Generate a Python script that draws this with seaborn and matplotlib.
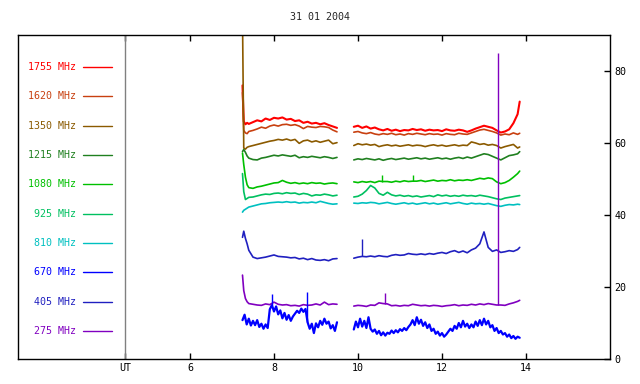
import matplotlib
matplotlib.use("Agg")
import matplotlib.pyplot as plt
import seaborn as sns

sns.set_style("white")
plt.rcParams['font.family'] = ['DejaVu Sans Mono', 'DejaVu Sans']

title = "31 01 2004"
labels = ["1755 MHz", "1620 MHz", "1350 MHz", "1215 MHz", "1080 MHz",
          "925 MHz", "810 MHz", "670 MHz", "405 MHz", "275 MHz"]
colors = ["#ff0000", "#c84010", "#8b5a00", "#208020", "#00c000",
          "#00c060", "#00c0c0", "#0000ff", "#2020c0", "#8000c0"]

xticks = [4.45, 6, 8, 10, 12, 14]
xticklabels = ["UT", "6", "8", "10", "12", "14"]
yticks = [0, 20, 40, 60, 80]

# sample times (UT hours)
t1 = [7.25, 7.28, 7.32, 7.36, 7.4, 7.5, 7.6, 7.7, 7.8, 7.9, 8.0, 8.1, 8.2,
      8.3, 8.4, 8.5, 8.6, 8.7, 8.8, 8.9, 9.0, 9.1, 9.2, 9.3, 9.4, 9.5]
t2 = [9.9, 10.0, 10.1, 10.2, 10.3, 10.4, 10.5, 10.6, 10.7, 10.8, 10.9,
      11.0, 11.1, 11.2, 11.3, 11.4, 11.5, 11.6, 11.7, 11.8, 11.9,
      12.0, 12.1, 12.2, 12.3, 12.4, 12.5, 12.6, 12.7, 12.8, 12.9,
      13.0, 13.1, 13.2, 13.3, 13.4, 13.5, 13.6, 13.7, 13.8, 13.85]
# finer sampling for the noisy 670 MHz record
t1b = [7.25, 7.30, 7.35, 7.40, 7.45, 7.50, 7.55, 7.60, 7.65, 7.70, 7.75, 7.80,
       7.85, 7.90, 7.95, 8.00, 8.05, 8.10, 8.15, 8.20, 8.25, 8.30, 8.35, 8.40,
       8.45, 8.50, 8.55, 8.60, 8.65, 8.70, 8.75, 8.80, 8.85, 8.90, 8.95, 9.00,
       9.05, 9.10, 9.15, 9.20, 9.25, 9.30, 9.35, 9.40, 9.45, 9.50]
t2b = [9.90, 9.95, 10.00, 10.05, 10.10, 10.15, 10.20, 10.25, 10.30, 10.35,
       10.40, 10.45, 10.50, 10.55, 10.60, 10.65, 10.70, 10.75, 10.80, 10.85,
       10.90, 10.95, 11.00, 11.05, 11.10, 11.15, 11.20, 11.25, 11.30, 11.35,
       11.40, 11.45, 11.50, 11.55, 11.60, 11.65, 11.70, 11.75, 11.80, 11.85,
       11.90, 11.95, 12.00, 12.05, 12.10, 12.15, 12.20, 12.25, 12.30, 12.35,
       12.40, 12.45, 12.50, 12.55, 12.60, 12.65, 12.70, 12.75, 12.80, 12.85,
       12.90, 12.95, 13.00, 13.05, 13.10, 13.15, 13.20, 13.25, 13.30, 13.35,
       13.40, 13.45, 13.50, 13.55, 13.60, 13.65, 13.70, 13.75, 13.80, 13.85]

f1755_a = [76, 66, 65.2, 65.6, 65.3, 65.8, 66.3, 66.0, 66.8, 66.4, 67.0, 66.8, 67.1,
           66.5, 66.7, 66.1, 66.3, 65.6, 65.9, 65.4, 65.6, 65.2, 65.5, 65.0, 64.6, 64.2]
f1755_b = [64.5, 64.8, 64.2, 64.6, 64.0, 64.3, 63.8, 63.5, 63.9, 63.4, 63.7,
           63.3, 63.6, 63.5, 63.9, 63.6, 63.8, 63.4, 63.7, 63.5, 63.6,
           63.3, 63.8, 63.5, 63.4, 63.7, 63.5, 63.1, 63.5, 64.0, 64.4,
           64.8, 64.5, 64.2, 63.5, 62.9, 63.2, 63.8, 65.5, 68.0, 71.5]
f1620_a = [74, 63.5, 62.8, 62.6, 63.2, 63.5, 63.9, 64.4, 64.1, 64.7, 65.0, 64.7, 65.1,
           65.2, 64.9, 65.1, 64.7, 64.0, 64.6, 64.4, 64.3, 64.6, 64.5, 64.3, 63.6, 63.1]
f1620_b = [63.0, 63.2, 62.8, 62.6, 62.9, 62.5, 62.3, 62.6, 62.4, 62.7, 62.3,
           62.5, 62.2, 62.6, 62.4, 62.7, 62.5, 62.3, 62.6, 62.4, 62.5,
           62.2, 62.6, 62.4, 62.3, 62.7, 62.5, 62.4, 62.8, 63.2, 63.6,
           63.8, 63.5, 63.2, 62.8, 62.2, 62.5, 62.3, 62.8, 62.4, 62.7]
f1350_a = [95, 58.6, 58.3, 58.8, 59.0, 59.3, 59.6, 59.9, 60.2, 60.5, 60.7, 61.0, 60.8,
           61.1, 60.7, 61.0, 59.9, 60.6, 60.8, 60.3, 60.6, 60.2, 60.5, 60.8, 59.8, 60.1]
f1350_b = [59.3, 59.8, 59.5, 59.7, 59.4, 59.6, 59.0, 59.3, 59.5, 59.2, 59.4,
           59.1, 59.3, 59.5, 59.2, 59.4, 59.3, 59.0, 59.3, 59.5, 59.2,
           59.4, 59.1, 59.3, 59.5, 59.2, 59.4, 59.3, 60.3, 60.0, 59.6,
           59.8, 59.4, 59.6, 59.3, 58.6, 59.0, 59.3, 59.6, 58.6, 58.9]
f1215_a = [57.6, 58.2, 57.4, 56.4, 55.8, 55.4, 55.3, 55.8, 56.0, 56.3, 56.6, 56.4, 56.7,
           56.5, 56.3, 56.6, 55.9, 56.2, 56.0, 56.3, 56.1, 55.9, 56.2, 56.0, 55.7, 56.0]
f1215_b = [55.3, 55.6, 55.4, 55.7, 55.5, 55.3, 55.6, 55.2, 55.5, 55.7, 55.4,
           55.6, 55.8, 55.5, 55.7, 55.9, 55.6, 55.8, 55.5, 55.7, 55.9,
           55.6, 55.8, 55.5, 55.8, 56.0, 55.7, 56.1, 55.8, 56.2, 56.6,
           57.0, 56.8, 56.3, 55.8, 55.3, 55.9, 56.5, 56.7, 57.0, 57.6]
f1080_a = [57.2, 54.0, 50.5, 48.4, 47.6, 47.4, 47.8, 48.0, 48.3, 48.6, 48.9, 49.0, 49.6,
           49.1, 48.8, 49.0, 48.7, 48.9, 48.7, 49.0, 48.8, 48.9, 48.6, 48.8, 48.9, 48.7]
f1080_b = [49.2, 49.0, 49.3, 49.1, 49.3, 49.0, 49.4, 49.3, 49.3, 49.1, 49.4,
           49.2, 49.5, 49.3, 49.4, 49.4, 49.6, 49.3, 49.5, 49.7, 49.4,
           49.6, 49.5, 49.8, 49.5, 49.7, 49.6, 49.8, 49.6, 49.9, 50.2,
           50.0, 50.3, 50.1, 49.2, 48.7, 49.0, 49.6, 50.5, 51.5, 52.2]
f925_a = [51.5, 46.5, 44.3, 44.6, 44.9, 45.0, 45.3, 45.6, 45.8, 45.7, 46.0, 46.1, 45.9,
          46.2, 46.0, 46.1, 45.7, 46.0, 45.8, 45.3, 45.6, 45.5, 45.8, 45.6, 45.3, 45.5]
f925_b = [45.0, 45.2, 45.8, 46.8, 48.2, 47.5, 46.0, 45.5, 46.3, 45.6, 45.3,
          45.5, 45.2, 45.4, 45.1, 45.3, 45.0, 45.2, 45.4, 45.1, 45.6,
          45.3, 45.5, 45.2, 45.4, 45.2, 45.5, 45.3, 45.4, 45.2, 45.5,
          45.3, 45.1, 44.8, 44.5, 44.3, 44.7, 44.9, 45.1, 45.3, 45.4]
f810_a = [40.8, 41.3, 41.6, 41.9, 42.2, 42.5, 42.8, 43.1, 43.2, 43.4, 43.5, 43.6, 43.5,
          43.7, 43.5, 43.6, 43.3, 43.5, 43.4, 43.6, 43.4, 43.8, 43.5, 43.2, 43.0, 43.1]
f810_b = [43.3, 43.2, 43.4, 43.3, 43.5, 43.4, 43.1, 43.3, 43.5, 43.2, 43.0,
          43.2, 43.4, 43.1, 43.3, 43.0, 43.2, 43.4, 43.1, 43.3, 43.0,
          43.2, 43.4, 43.1, 43.3, 43.5, 43.2, 43.0, 43.3, 43.1, 43.2,
          43.0, 43.2, 42.9, 42.6, 42.4, 42.7, 42.9, 42.8, 43.0, 42.9]
f670_a = [10.8, 12.3, 9.6, 11.2, 9.3, 10.6, 9.4, 10.8, 8.9, 9.8, 8.4, 9.6,
          8.6, 13.8, 15.0, 13.2, 14.6, 12.4, 13.5, 11.3, 12.8, 10.9, 12.2, 10.6,
          11.8, 12.6, 13.4, 12.8, 14.0, 13.1, 13.9, 10.2, 8.4, 9.8, 7.2, 9.9,
          8.8, 10.6, 9.5, 11.2, 9.8, 10.4, 8.5, 9.4, 7.8, 10.2]
f670_b = [8.2, 10.4, 8.8, 11.2, 9.0, 10.6, 8.6, 11.6, 8.4, 7.6,
          8.2, 7.0, 7.8, 6.6, 7.4, 6.5, 7.3, 7.0, 7.9, 7.2,
          8.0, 7.4, 8.3, 7.8, 8.6, 8.0, 8.9, 9.6, 10.8, 9.4,
          11.6, 9.8, 10.9, 9.2, 10.2, 8.6, 9.6, 7.8, 8.4, 7.0,
          7.6, 6.5, 7.2, 6.2, 6.8, 7.6, 8.4, 7.8, 9.2, 8.4,
          10.0, 8.8, 10.6, 9.0, 9.8, 8.6, 9.6, 8.8, 10.4, 9.2,
          10.8, 9.4, 11.2, 9.6, 10.6, 8.8, 9.4, 7.8, 8.6, 7.2,
          7.8, 6.8, 7.2, 6.2, 6.8, 5.8, 6.4, 5.6, 6.2, 5.9]
f405_a = [33.8, 35.5, 33.5, 32.0, 30.2, 28.3, 27.9, 28.1, 28.3, 28.6, 28.9, 28.5, 28.4,
          28.3, 28.1, 28.2, 27.8, 28.0, 27.6, 27.9, 27.5, 27.4, 27.6, 27.3, 27.8, 27.9]
f405_b = [28.0, 28.3, 28.5, 28.4, 28.6, 28.4, 28.7, 28.5, 28.4, 28.8, 29.0,
          28.8, 28.9, 29.3, 29.1, 29.0, 29.2, 29.0, 29.3, 29.1, 29.4,
          29.6, 29.3, 29.8, 30.1, 29.6, 30.0, 29.5, 30.3, 30.8, 32.0,
          35.3, 31.0, 29.9, 30.3, 29.6, 29.8, 30.1, 29.9, 30.4, 31.0]
f275_a = [23.3, 19.0, 16.8, 15.9, 15.4, 15.2, 15.0, 14.9, 15.3, 15.1, 15.8, 15.2, 15.0,
          15.1, 14.8, 14.9, 14.7, 15.1, 14.9, 15.0, 15.3, 15.0, 15.8, 15.1, 15.3, 15.2]
f275_b = [14.7, 14.9, 14.8, 14.6, 15.0, 14.9, 15.6, 15.4, 15.3, 14.8, 14.9,
          14.7, 14.9, 14.8, 15.2, 15.0, 14.8, 14.9, 14.7, 14.9, 14.8,
          14.6, 14.8, 14.9, 15.1, 14.8, 15.0, 14.9, 15.2, 15.0, 15.3,
          15.1, 15.4, 15.2, 15.0, 15.0, 14.9, 15.3, 15.6, 16.0, 16.3]

# narrow bursts: channel index, time, peak value
spike_chan = [9, 9, 8, 4, 4, 7, 7]
spike_time = [13.33, 10.65, 10.1, 10.57, 11.3, 7.95, 8.78]
spike_peak = [85.0, 18.3, 33.3, 51.0, 51.0, 18.0, 18.6]

series = [
    (t1, f1755_a, t2, f1755_b),
    (t1, f1620_a, t2, f1620_b),
    (t1, f1350_a, t2, f1350_b),
    (t1, f1215_a, t2, f1215_b),
    (t1, f1080_a, t2, f1080_b),
    (t1, f925_a, t2, f925_b),
    (t1, f810_a, t2, f810_b),
    (t1b, f670_a, t2b, f670_b),
    (t1, f405_a, t2, f405_b),
    (t1, f275_a, t2, f275_b),
]
widths = [1.5, 1.2, 1.2, 1.2, 1.2, 1.2, 1.2, 1.6, 1.2, 1.2]

fig = plt.figure(figsize=(6.4, 3.84), dpi=100)
ax = fig.add_axes([18 / 640, 1 - 359 / 384, 592 / 640, 324 / 384])

for (ta, ya, tb, yb), c, lw in zip(series, colors, widths):
    for tt, yy in ((ta, ya), (tb, yb)):
        sns.lineplot(x=tt, y=yy, ax=ax, color=c, linewidth=lw,
                     estimator=None, sort=False)

# bursts drawn as thin vertical strokes from the trace level
for ch, ts, pk in zip(spike_chan, spike_time, spike_peak):
    ta, ya, tb, yb = series[ch]
    tt, yy = (ta, ya) if ts < 9.7 else (tb, yb)
    i = min(range(len(tt)), key=lambda k: abs(tt[k] - ts))
    ax.vlines(ts, yy[i], pk, color=colors[ch], linewidth=1.0)

# legend column left of the UT line
for i, (lab, c) in enumerate(zip(labels, colors)):
    yl = 81.1 - 8.15 * i
    ax.text(3.29, yl, lab, color=c, fontsize=7.2, ha='right', va='center')
    ax.plot([3.45, 4.14], [yl, yl], color=c, linewidth=1.0)

ax.axvline(4.45, color='#808080', linewidth=1.0)

ax.set_xlim(1.905, 16.0)
ax.set_ylim(0, 90)
ax.set_xticks(xticks)
ax.set_xticklabels(xticklabels)
ax.set_yticks(yticks)
ax.yaxis.tick_right()
ax.tick_params(axis='both', direction='in', length=4, width=1, labelsize=7.2,
               colors='black', pad=3)
ax.tick_params(axis='x', top=True, bottom=True)
ax.tick_params(axis='y', left=False, right=True)
for s in ax.spines.values():
    s.set_color('black')
    s.set_linewidth(1.0)
ax.set_xlabel("")
ax.set_ylabel("")
fig.text(0.5, 1 - 17 / 384, title, ha='center', va='center', fontsize=7.2)

fig.savefig("out.png", dpi=100)
